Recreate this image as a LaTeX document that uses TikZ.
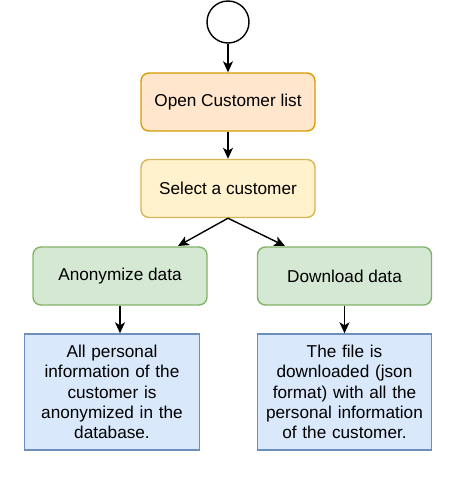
\documentclass[tikz,border=0pt]{standalone}
\usepackage{fontspec}
\setmainfont{Liberation Sans}
\usetikzlibrary{arrows.meta}
\definecolor{orF}{HTML}{FFE6CC}\definecolor{orS}{HTML}{D79B00}
\definecolor{yeF}{HTML}{FFF2CC}\definecolor{yeS}{HTML}{D6B656}
\definecolor{grF}{HTML}{D5E8D4}\definecolor{grS}{HTML}{82B366}
\definecolor{blF}{HTML}{DAE8FC}\definecolor{blS}{HTML}{6C8EBF}
\begin{document}
\begin{tikzpicture}[x=1pt,y=-1pt,
  every node/.style={font=\fontsize{17.2}{20.3}\selectfont, inner sep=0pt},
  stepbox/.style={draw, line width=1.4pt, rounded corners=8pt, minimum width=174pt, minimum height=58pt, align=center},
  notebox/.style={draw, line width=1.4pt, minimum width=175pt, minimum height=116pt, align=center, text width=160pt},
  conn/.style={line width=1.4pt, -{Stealth[length=11pt,width=10pt,inset=3pt]}}]
\useasboundingbox (0,0) rectangle (460,477);
\node[draw, circle, line width=1.4pt, minimum size=42pt] (start) at (228,22) {};
\node[stepbox, fill=orF, draw=orS] (open) at (228,102) {Open Customer list};
\node[stepbox, fill=yeF, draw=yeS] (select) at (228,188.5) {Select a customer};
\node[stepbox, fill=grF, draw=grS] (anon) at (120,276) {Anonymize data};
\node[stepbox, fill=grF, draw=grS] (down) at (344.5,276) {Download data};
\node[notebox, fill=blF, draw=blS] (anonnote) at (112,392) {All personal\\information of the\\customer is\\anonymized in the\\database.};
\node[notebox, fill=blF, draw=blS, minimum width=174pt] (downnote) at (344.5,392) {The file is\\downloaded (json\\format) with all the\\personal information\\of the customer.};
\coordinate (al) at (178,246);
\coordinate (ar) at (285,246);
\draw[conn] (start) -- (open);
\draw[conn] (open) -- (select);
\draw[conn] (select.south) -- (al);
\draw[conn] (select.south) -- (ar);
\draw[conn] (anon.south) -- (anon.south |- anonnote.north);
\draw[conn] (down.south) -- (down.south |- downnote.north);
\end{tikzpicture}
\end{document}
